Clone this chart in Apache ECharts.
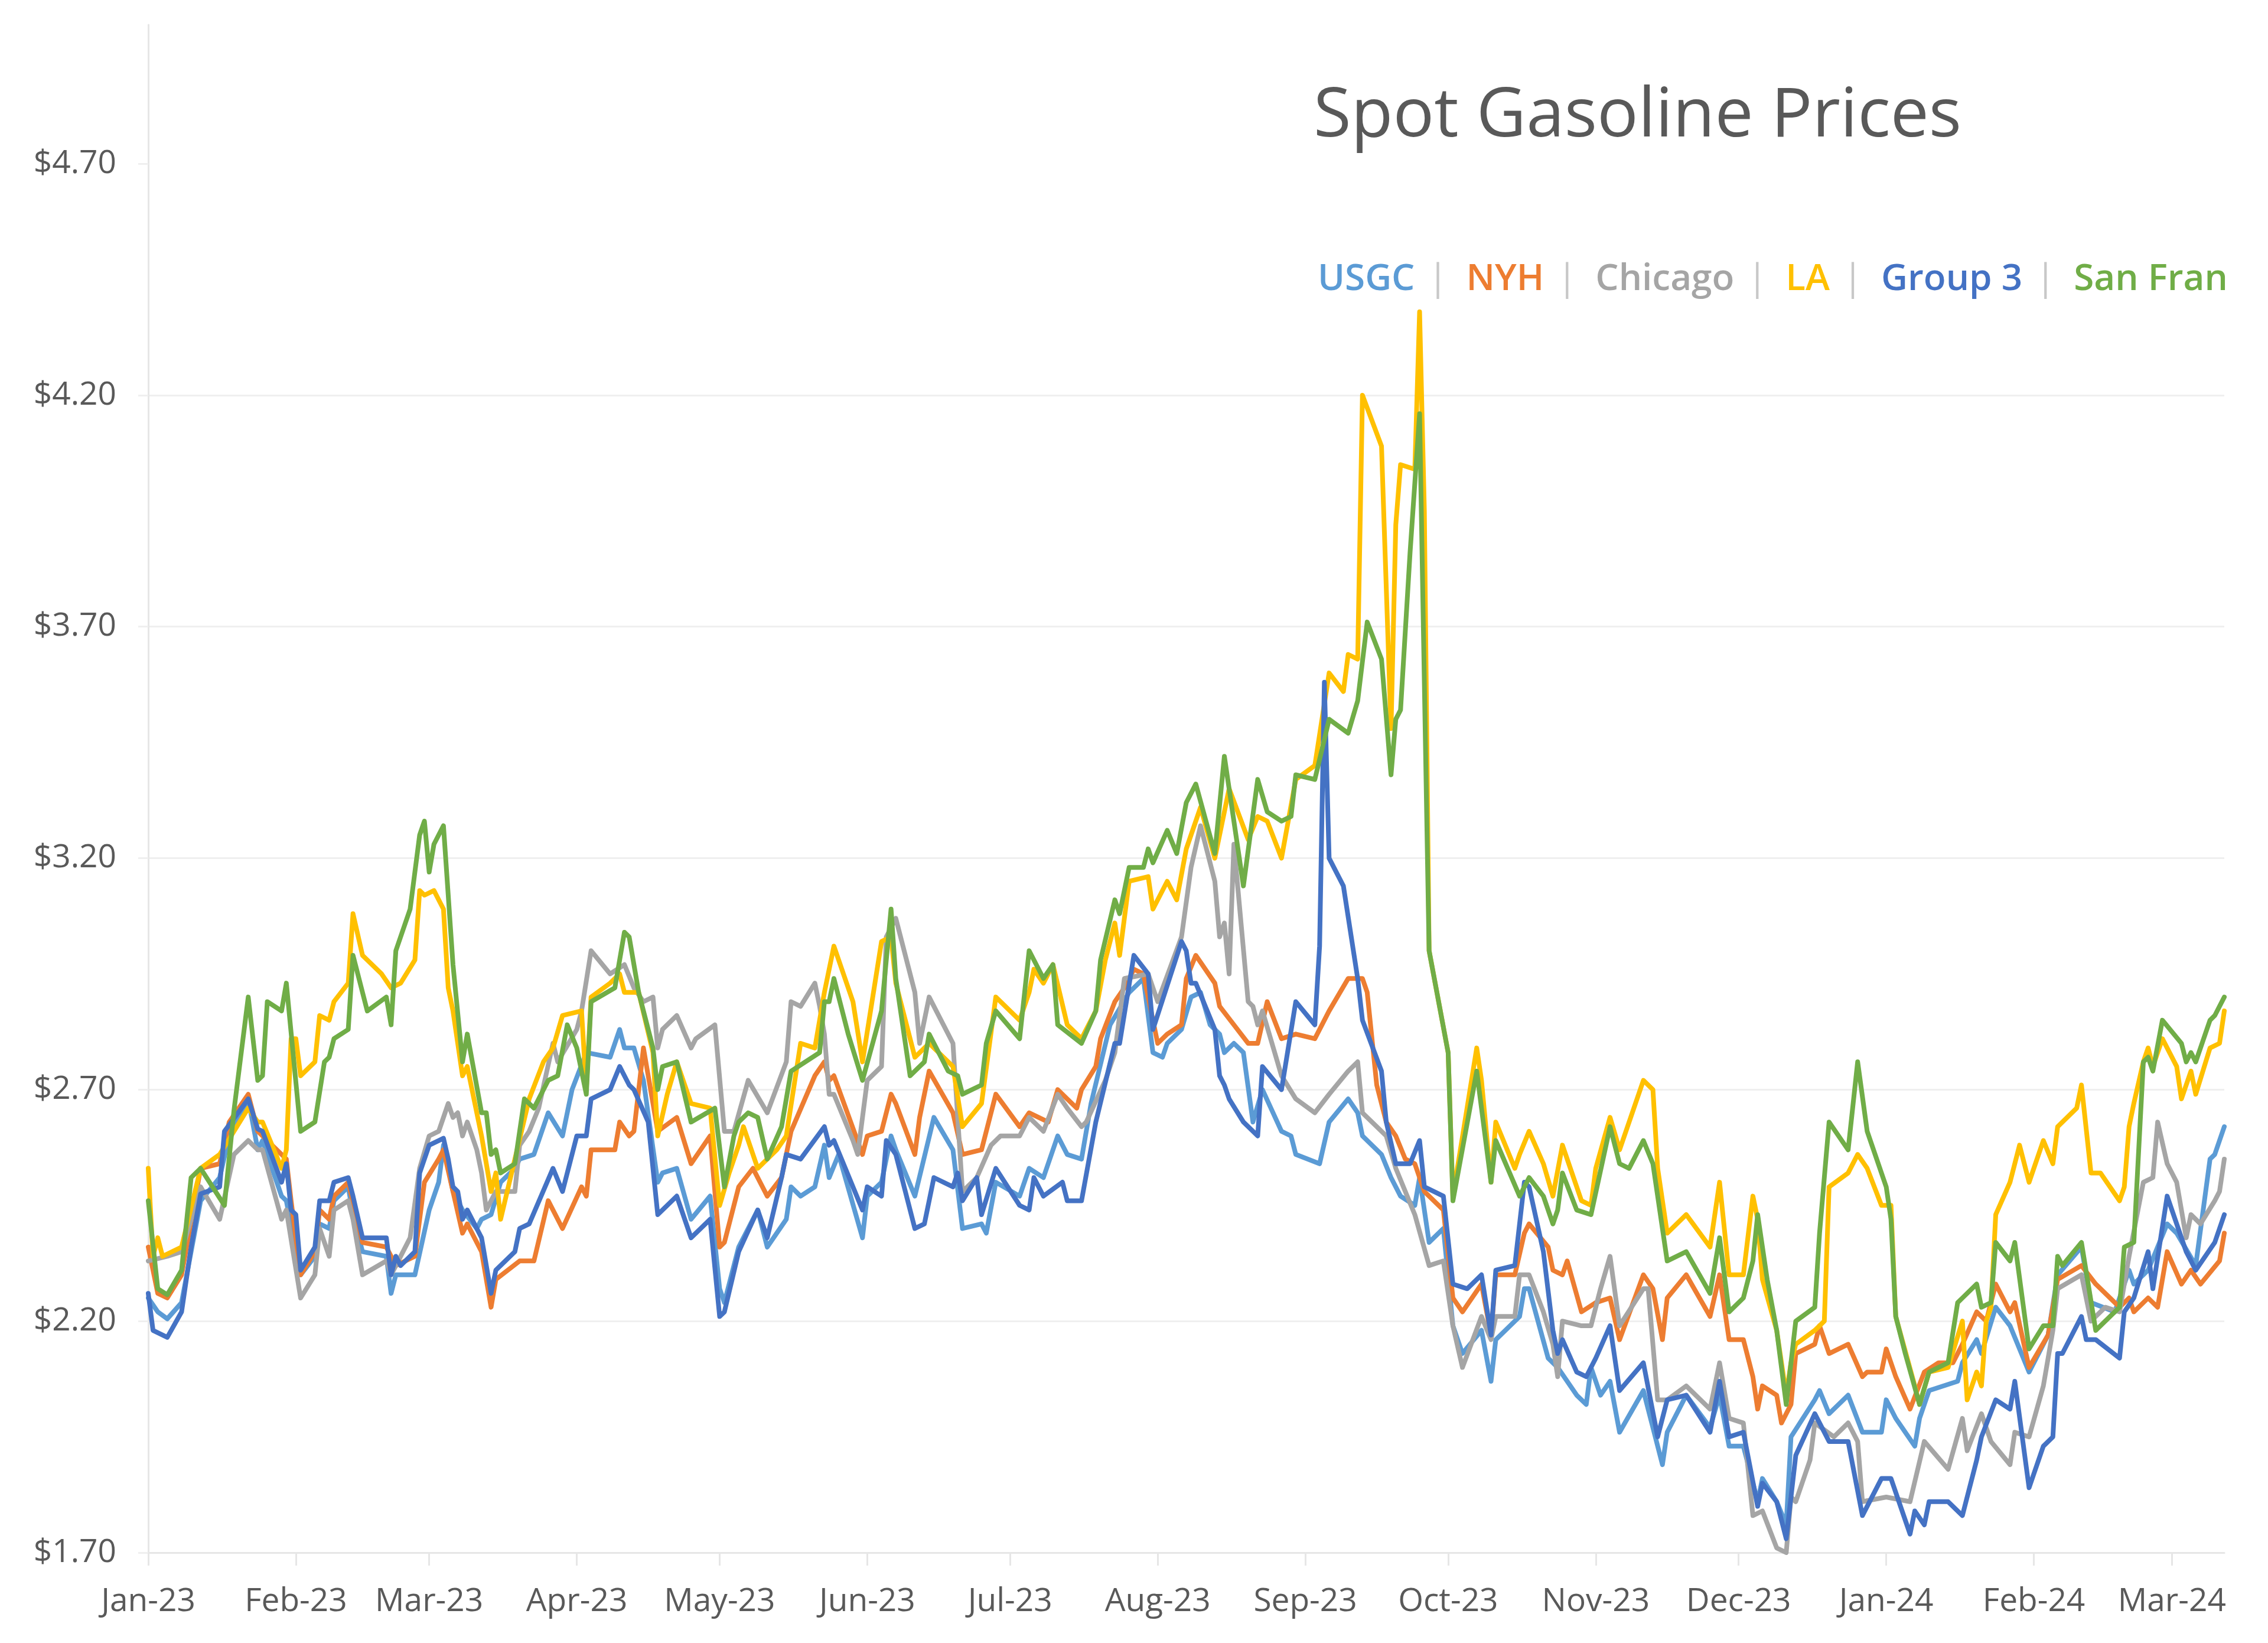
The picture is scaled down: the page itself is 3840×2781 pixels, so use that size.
<!DOCTYPE html>
<html>
<head>
<meta charset="utf-8">
<title>Spot Gasoline Prices</title>
<script src="https://cdn.jsdelivr.net/npm/echarts@6/dist/echarts.min.js"></script>
<style>
  html, body { margin: 0; padding: 0; background: #ffffff; }
  #chart { width: 3840px; height: 2781px; }
</style>
</head>
<body>
<div id="chart"></div>
<script>
// ---------------- data ----------------
// Each point: [day, price] where day = days after 1 Jan 2023 (trading days)
const titleText = 'Spot Gasoline Prices';
const seriesNames = ['USGC', 'NYH', 'Chicago', 'LA', 'Group 3', 'San Fran'];
const monthLabels = ['Jan-23','Feb-23','Mar-23','Apr-23','May-23','Jun-23','Jul-23','Aug-23','Sep-23','Oct-23','Nov-23','Dec-23','Jan-24','Feb-24','Mar-24'];
const monthStarts = ['2023-01-01','2023-02-01','2023-03-01','2023-04-01','2023-05-01','2023-06-01','2023-07-01','2023-08-01','2023-09-01','2023-10-01','2023-11-01','2023-12-01','2024-01-01','2024-02-01','2024-03-01'];
const axisEnd = '2024-03-12';
const yTicks = [1.7, 2.2, 2.7, 3.2, 3.7, 4.2, 4.7];

const usgc = [[0,2.25],[2,2.22],[4,2.205],[7,2.24],[11,2.46],[15,2.51],[17,2.60],[21,2.68],[23,2.57],[24,2.59],[28,2.47],[29,2.46],[32,2.30],[35,2.34],[36,2.41],[38,2.40],[39,2.46],[42,2.49],[43,2.43],[45,2.35],[50,2.34],[51,2.26],[52,2.30],[56,2.30],[59,2.44],[61,2.50],[62,2.58],[64,2.48],[66,2.44],[69,2.40],[70,2.42],[72,2.43],[74,2.50],[77,2.53],[78,2.55],[81,2.56],[84,2.65],[87,2.60],[89,2.70],[92,2.78],[97,2.77],[99,2.83],[100,2.79],[102,2.79],[104,2.72],[107,2.50],[108,2.52],[111,2.53],[114,2.42],[118,2.47],[120,2.27],[121,2.24],[124,2.36],[128,2.44],[130,2.36],[134,2.42],[135,2.49],[137,2.47],[140,2.49],[142,2.58],[143,2.51],[145,2.56],[150,2.38],[151,2.47],[154,2.50],[156,2.60],[157,2.57],[161,2.47],[165,2.64],[169,2.57],[171,2.40],[175,2.41],[176,2.39],[178,2.50],[183,2.47],[185,2.53],[188,2.51],[191,2.60],[193,2.56],[196,2.55],[198,2.67],[202,2.84],[206,2.91],[209,2.94],[211,2.78],[213,2.77],[214,2.80],[217,2.83],[219,2.90],[221,2.91],[223,2.84],[225,2.82],[226,2.78],[228,2.80],[230,2.78],[232,2.63],[234,2.70],[238,2.61],[240,2.60],[241,2.56],[246,2.54],[248,2.63],[252,2.68],[254,2.65],[255,2.60],[259,2.56],[261,2.51],[263,2.47],[266,2.45],[267,2.51],[269,2.37],[272,2.40],[274,2.19],[276,2.13],[280,2.18],[282,2.07],[283,2.16],[288,2.21],[289,2.27],[290,2.27],[294,2.12],[296,2.10],[300,2.04],[302,2.02],[303,2.10],[305,2.04],[307,2.07],[309,1.96],[314,2.05],[318,1.89],[319,1.96],[323,2.04],[328,1.97],[330,2.04],[332,1.93],[335,1.93],[338,1.81],[339,1.86],[342,1.81],[344,1.76],[345,1.95],[350,2.03],[351,2.05],[353,2.00],[357,2.04],[360,1.96],[364,1.96],[365,2.03],[367,1.99],[371,1.93],[372,1.99],[374,2.05],[380,2.07],[381,2.11],[384,2.16],[385,2.13],[388,2.23],[391,2.19],[395,2.09],[399,2.17],[401,2.30],[406,2.36],[408,2.24],[413,2.22],[416,2.31],[417,2.28],[420,2.31],[424,2.41],[426,2.39],[430,2.32],[433,2.55],[434,2.56],[436,2.62]];

const nyh = [[0,2.36],[2,2.26],[4,2.25],[7,2.30],[11,2.53],[15,2.54],[17,2.63],[21,2.69],[23,2.61],[29,2.55],[30,2.46],[32,2.30],[35,2.35],[36,2.44],[38,2.42],[39,2.47],[42,2.50],[45,2.37],[50,2.36],[52,2.32],[56,2.34],[58,2.50],[61,2.55],[62,2.57],[64,2.48],[66,2.39],[67,2.41],[70,2.35],[72,2.23],[73,2.29],[78,2.33],[81,2.33],[84,2.46],[87,2.40],[91,2.49],[92,2.47],[93,2.57],[98,2.57],[99,2.63],[101,2.60],[102,2.61],[104,2.79],[107,2.61],[111,2.64],[114,2.54],[118,2.60],[120,2.36],[121,2.37],[124,2.49],[127,2.53],[130,2.47],[133,2.51],[135,2.61],[140,2.73],[142,2.76],[143,2.72],[144,2.73],[150,2.56],[151,2.60],[154,2.61],[156,2.69],[157,2.67],[161,2.56],[162,2.64],[164,2.74],[169,2.65],[171,2.56],[175,2.57],[178,2.69],[183,2.62],[185,2.65],[189,2.63],[191,2.70],[193,2.68],[195,2.66],[196,2.70],[199,2.75],[200,2.81],[203,2.89],[205,2.92],[207,2.96],[209,2.95],[212,2.80],[214,2.82],[217,2.84],[218,2.94],[220,2.99],[224,2.93],[225,2.88],[228,2.84],[231,2.80],[233,2.80],[235,2.89],[238,2.81],[241,2.82],[245,2.81],[248,2.87],[252,2.94],[255,2.94],[256,2.91],[258,2.71],[260,2.63],[262,2.60],[264,2.55],[266,2.54],[268,2.48],[272,2.44],[274,2.25],[276,2.22],[280,2.28],[282,2.17],[283,2.30],[287,2.30],[289,2.39],[290,2.41],[294,2.36],[295,2.31],[297,2.30],[298,2.33],[301,2.22],[304,2.24],[307,2.25],[309,2.16],[314,2.30],[316,2.27],[318,2.16],[319,2.25],[323,2.30],[328,2.21],[330,2.30],[332,2.16],[335,2.16],[337,2.08],[338,2.01],[339,2.06],[342,2.04],[343,1.98],[345,2.02],[346,2.13],[350,2.15],[351,2.19],[353,2.13],[357,2.15],[360,2.08],[361,2.09],[364,2.09],[365,2.14],[367,2.08],[370,2.01],[373,2.09],[376,2.11],[379,2.11],[381,2.15],[384,2.22],[386,2.20],[388,2.28],[391,2.22],[392,2.24],[395,2.10],[399,2.17],[401,2.29],[406,2.32],[409,2.28],[414,2.23],[416,2.25],[417,2.22],[420,2.25],[422,2.23],[424,2.35],[427,2.28],[429,2.31],[431,2.28],[435,2.33],[436,2.39]];

const chicago = [[0,2.33],[4,2.34],[7,2.35],[11,2.49],[15,2.42],[18,2.56],[21,2.59],[23,2.57],[24,2.57],[28,2.42],[29,2.44],[32,2.25],[35,2.30],[36,2.40],[38,2.34],[39,2.44],[42,2.46],[43,2.42],[45,2.30],[50,2.33],[51,2.30],[55,2.38],[57,2.53],[59,2.60],[61,2.61],[63,2.67],[64,2.64],[65,2.65],[66,2.60],[67,2.63],[69,2.57],[70,2.52],[71,2.44],[73,2.48],[77,2.48],[78,2.58],[80,2.61],[82,2.66],[85,2.80],[86,2.76],[90,2.83],[91,2.87],[93,3.00],[97,2.95],[100,2.97],[102,2.92],[104,2.89],[106,2.90],[107,2.79],[108,2.83],[111,2.86],[114,2.79],[115,2.81],[119,2.84],[121,2.61],[123,2.61],[126,2.72],[130,2.65],[134,2.76],[135,2.89],[137,2.88],[140,2.93],[141,2.88],[142,2.82],[143,2.69],[144,2.69],[148,2.59],[149,2.56],[151,2.72],[154,2.75],[155,3.03],[157,3.07],[161,2.91],[162,2.80],[164,2.90],[169,2.80],[171,2.48],[174,2.51],[177,2.58],[179,2.60],[183,2.60],[185,2.64],[188,2.61],[191,2.69],[193,2.66],[196,2.62],[197,2.63],[201,2.72],[203,2.78],[205,2.94],[210,2.95],[212,2.89],[217,3.03],[219,3.18],[221,3.27],[224,3.15],[225,3.03],[226,3.06],[227,2.95],[228,3.23],[231,2.89],[232,2.88],[233,2.84],[234,2.87],[238,2.73],[241,2.68],[245,2.65],[248,2.69],[252,2.74],[254,2.76],[255,2.65],[260,2.60],[262,2.53],[266,2.43],[269,2.32],[272,2.33],[274,2.19],[276,2.10],[280,2.21],[282,2.16],[283,2.21],[287,2.21],[288,2.30],[290,2.30],[293,2.22],[295,2.15],[296,2.08],[297,2.20],[301,2.19],[303,2.19],[305,2.27],[307,2.34],[309,2.19],[314,2.27],[315,2.27],[317,2.03],[319,2.03],[323,2.06],[328,2.01],[330,2.11],[332,1.99],[335,1.98],[337,1.78],[339,1.79],[342,1.71],[344,1.70],[345,1.82],[346,1.81],[349,1.90],[350,1.98],[354,1.95],[357,1.98],[359,1.94],[360,1.81],[365,1.82],[370,1.81],[373,1.94],[378,1.88],[381,1.99],[382,1.92],[385,2.00],[387,1.94],[391,1.89],[392,1.96],[395,1.95],[398,2.06],[400,2.18],[401,2.27],[406,2.30],[408,2.20],[411,2.23],[414,2.22],[416,2.34],[419,2.50],[421,2.51],[422,2.63],[424,2.54],[426,2.50],[428,2.38],[429,2.43],[431,2.41],[434,2.46],[435,2.48],[436,2.55]];

const la = [[0,2.53],[1,2.34],[2,2.38],[3,2.34],[7,2.36],[11,2.53],[15,2.56],[21,2.66],[23,2.63],[24,2.63],[28,2.53],[29,2.57],[30,2.81],[31,2.81],[32,2.73],[35,2.76],[36,2.86],[38,2.85],[39,2.89],[42,2.93],[43,3.08],[45,2.99],[49,2.95],[51,2.92],[53,2.93],[56,2.98],[57,3.13],[58,3.12],[60,3.13],[62,3.09],[63,2.92],[64,2.87],[66,2.73],[67,2.75],[70,2.60],[72,2.48],[73,2.52],[74,2.42],[77,2.55],[80,2.68],[83,2.76],[85,2.79],[87,2.86],[91,2.87],[92,2.70],[93,2.90],[97,2.93],[99,2.95],[100,2.91],[103,2.91],[106,2.78],[107,2.60],[109,2.69],[111,2.76],[114,2.67],[118,2.66],[120,2.45],[122,2.52],[124,2.58],[125,2.62],[128,2.53],[132,2.57],[134,2.60],[137,2.80],[140,2.79],[142,2.91],[144,3.01],[148,2.89],[150,2.76],[154,3.02],[156,3.03],[157,2.93],[161,2.77],[164,2.80],[169,2.75],[171,2.62],[175,2.67],[178,2.90],[183,2.85],[185,2.91],[186,2.96],[188,2.93],[190,2.97],[193,2.84],[196,2.81],[199,2.87],[201,2.98],[203,3.06],[204,2.99],[206,3.15],[210,3.16],[211,3.09],[214,3.15],[216,3.11],[218,3.22],[221,3.31],[224,3.20],[227,3.35],[231,3.24],[233,3.29],[235,3.28],[238,3.20],[241,3.37],[245,3.40],[248,3.60],[251,3.56],[252,3.64],[254,3.63],[255,4.20],[259,4.09],[261,3.48],[262,3.92],[263,4.05],[266,4.04],[267,4.38],[268,3.95],[269,3.00],[273,2.78],[274,2.47],[279,2.79],[280,2.72],[282,2.50],[283,2.63],[287,2.53],[288,2.56],[290,2.61],[293,2.54],[295,2.47],[297,2.58],[301,2.46],[303,2.45],[304,2.53],[307,2.64],[309,2.57],[314,2.72],[316,2.70],[317,2.53],[319,2.39],[323,2.43],[328,2.36],[330,2.50],[332,2.30],[335,2.30],[337,2.47],[338,2.42],[339,2.29],[342,2.18],[344,2.04],[345,2.11],[346,2.15],[350,2.18],[352,2.20],[353,2.49],[357,2.52],[359,2.56],[361,2.53],[364,2.45],[366,2.45],[367,2.21],[371,2.06],[372,2.02],[374,2.09],[378,2.10],[381,2.20],[382,2.03],[384,2.09],[385,2.06],[386,2.20],[387,2.23],[388,2.43],[391,2.50],[393,2.58],[395,2.50],[398,2.59],[400,2.54],[401,2.62],[405,2.66],[406,2.71],[408,2.52],[410,2.52],[414,2.46],[415,2.49],[416,2.62],[417,2.67],[419,2.76],[420,2.79],[421,2.75],[423,2.81],[426,2.75],[427,2.68],[429,2.74],[430,2.69],[433,2.79],[435,2.80],[436,2.87]];

const group3 = [[0,2.26],[1,2.18],[4,2.165],[7,2.22],[9,2.36],[11,2.475],[15,2.49],[16,2.61],[21,2.68],[23,2.615],[24,2.61],[28,2.50],[29,2.54],[30,2.44],[31,2.43],[32,2.31],[35,2.36],[36,2.46],[38,2.46],[39,2.50],[42,2.51],[43,2.47],[45,2.38],[50,2.38],[51,2.30],[52,2.34],[53,2.32],[56,2.35],[57,2.52],[59,2.58],[61,2.59],[62,2.595],[63,2.55],[64,2.49],[65,2.48],[66,2.42],[67,2.44],[70,2.38],[72,2.26],[73,2.31],[77,2.35],[78,2.40],[80,2.41],[85,2.53],[87,2.48],[90,2.60],[92,2.60],[93,2.68],[97,2.70],[99,2.75],[101,2.71],[102,2.70],[105,2.63],[107,2.43],[111,2.47],[114,2.38],[118,2.42],[120,2.21],[121,2.22],[124,2.35],[128,2.44],[130,2.38],[133,2.51],[134,2.56],[137,2.55],[142,2.62],[143,2.58],[144,2.59],[150,2.44],[151,2.49],[154,2.47],[155,2.59],[157,2.56],[161,2.40],[163,2.41],[165,2.51],[169,2.49],[170,2.52],[171,2.46],[174,2.51],[175,2.43],[178,2.53],[183,2.45],[185,2.44],[186,2.51],[188,2.47],[192,2.50],[193,2.46],[196,2.46],[199,2.63],[203,2.80],[204,2.80],[207,2.99],[210,2.95],[211,2.83],[217,3.02],[218,3.00],[219,2.93],[220,2.93],[224,2.83],[225,2.73],[226,2.71],[227,2.68],[230,2.63],[233,2.60],[234,2.75],[238,2.70],[241,2.89],[245,2.84],[246,3.01],[247,3.58],[248,3.20],[251,3.14],[254,2.94],[255,2.85],[259,2.74],[260,2.63],[262,2.54],[265,2.54],[267,2.59],[268,2.49],[272,2.47],[274,2.28],[277,2.27],[280,2.30],[282,2.17],[283,2.31],[287,2.32],[289,2.50],[290,2.49],[293,2.35],[295,2.18],[296,2.13],[297,2.16],[300,2.09],[302,2.08],[304,2.12],[307,2.19],[309,2.05],[314,2.11],[317,1.95],[319,2.03],[323,2.04],[328,1.96],[330,2.07],[332,1.95],[335,1.96],[338,1.80],[339,1.85],[342,1.81],[344,1.73],[346,1.91],[350,2.00],[353,1.94],[357,1.94],[360,1.78],[364,1.86],[366,1.86],[370,1.74],[371,1.79],[373,1.76],[374,1.81],[378,1.81],[381,1.78],[384,1.90],[385,1.95],[388,2.03],[391,2.01],[392,2.07],[395,1.84],[398,1.93],[400,1.95],[401,2.13],[402,2.13],[406,2.21],[407,2.16],[409,2.16],[414,2.12],[415,2.22],[417,2.25],[420,2.35],[421,2.27],[424,2.47],[426,2.41],[428,2.35],[430,2.31],[434,2.37],[436,2.43]];

const sanFran = [[0,2.46],[2,2.27],[4,2.257],[7,2.31],[9,2.51],[11,2.53],[16,2.45],[18,2.655],[21,2.90],[23,2.72],[24,2.73],[25,2.89],[28,2.87],[29,2.93],[32,2.61],[35,2.63],[37,2.76],[38,2.77],[39,2.81],[42,2.83],[43,2.99],[46,2.87],[50,2.90],[51,2.84],[52,3.00],[55,3.09],[57,3.25],[58,3.28],[59,3.17],[60,3.23],[62,3.27],[64,2.97],[66,2.76],[67,2.82],[70,2.65],[71,2.65],[72,2.56],[73,2.57],[74,2.52],[77,2.54],[79,2.68],[81,2.66],[84,2.72],[86,2.73],[88,2.84],[90,2.79],[92,2.69],[93,2.89],[98,2.92],[100,3.04],[101,3.03],[103,2.91],[106,2.79],[107,2.70],[108,2.75],[111,2.76],[114,2.63],[119,2.66],[121,2.49],[123,2.60],[124,2.63],[126,2.65],[128,2.64],[130,2.55],[133,2.62],[135,2.74],[141,2.78],[142,2.89],[143,2.89],[144,2.94],[147,2.82],[150,2.72],[154,2.87],[156,3.09],[157,2.94],[160,2.73],[163,2.76],[164,2.82],[168,2.74],[170,2.73],[171,2.69],[175,2.71],[176,2.80],[178,2.87],[183,2.81],[185,3.00],[188,2.94],[190,2.97],[191,2.84],[196,2.80],[199,2.87],[200,2.98],[203,3.11],[204,3.08],[206,3.18],[209,3.18],[210,3.22],[211,3.19],[214,3.26],[216,3.21],[218,3.32],[220,3.36],[224,3.21],[226,3.42],[230,3.14],[233,3.37],[235,3.30],[238,3.28],[240,3.29],[241,3.38],[245,3.37],[248,3.50],[252,3.47],[254,3.54],[256,3.71],[259,3.63],[261,3.38],[262,3.50],[263,3.52],[265,3.86],[267,4.16],[269,3.00],[273,2.78],[274,2.46],[279,2.74],[282,2.50],[283,2.59],[288,2.47],[290,2.51],[293,2.47],[295,2.41],[296,2.44],[297,2.52],[300,2.44],[303,2.43],[307,2.62],[309,2.54],[311,2.53],[314,2.59],[316,2.54],[319,2.33],[323,2.35],[328,2.26],[330,2.38],[332,2.22],[335,2.25],[337,2.33],[338,2.43],[340,2.29],[342,2.18],[344,2.02],[346,2.20],[350,2.23],[351,2.39],[353,2.63],[357,2.57],[359,2.76],[361,2.61],[365,2.49],[366,2.42],[367,2.21],[369,2.13],[372,2.02],[374,2.09],[378,2.11],[380,2.24],[381,2.25],[384,2.28],[385,2.23],[387,2.24],[388,2.37],[391,2.33],[392,2.37],[395,2.14],[398,2.19],[400,2.19],[401,2.34],[402,2.32],[406,2.37],[409,2.18],[414,2.23],[415,2.36],[417,2.37],[419,2.76],[420,2.77],[421,2.74],[423,2.85],[427,2.80],[428,2.76],[429,2.78],[430,2.76],[433,2.85],[434,2.86],[436,2.90]];

// ---------------- chart ----------------
const seriesData = [usgc, nyh, chicago, la, group3, sanFran];
const colors = ['#5B9BD5', '#ED7D31', '#A5A5A5', '#FFC000', '#4472C4', '#70AD47'];
const FONT = '"Segoe UI", "Open Sans", "Noto Sans", sans-serif';
const GRID = '#EFEFEF';
const AXIS = '#E6E6E6';

const DAY0 = Date.UTC(2023, 0, 1);
const toDay = s => Math.round((Date.parse(s + 'T00:00:00Z') - DAY0) / 864e5);
const monthDays = monthStarts.map(toDay);
const labelByDay = {};
monthDays.forEach((d, i) => { labelByDay[d] = monthLabels[i]; });

const chart = echarts.init(document.getElementById('chart'), null, { renderer: 'canvas' });

const option = {
  backgroundColor: '#ffffff',
  animation: false,
  title: {
    text: titleText,
    left: 2219,
    top: 128,
    padding: 5,
    textStyle: { fontFamily: FONT, fontSize: 116, fontWeight: 'normal', color: '#595959', lineHeight: 130 }
  },
  legend: {
    left: 2221,
    top: 428,
    right: 0,
    orient: 'horizontal',
    icon: 'none',
    itemWidth: 0,
    itemHeight: 80,
    itemGap: 26,
    selectedMode: false,
    data: seriesNames.map((n, i) => ({ name: n, textStyle: { color: colors[i] } })),
    formatter: n => (n === seriesNames[seriesNames.length - 1] ? n : n + '{s||}'),
    textStyle: {
      fontFamily: FONT, fontSize: 62, fontWeight: 600, lineHeight: 80,
      rich: { s: { color: '#C8C8C8', fontWeight: 'normal', fontFamily: FONT, fontSize: 62, lineHeight: 80, padding: [0, 0, 0, 22] } }
    }
  },
  grid: { left: 251, right: 74, top: 42, bottom: 153, containLabel: false },
  xAxis: {
    type: 'value',
    min: 0,
    max: toDay(axisEnd),
    axisLine: { show: true, lineStyle: { color: AXIS, width: 3 } },
    axisTick: { show: true, customValues: monthDays, length: 22, lineStyle: { color: AXIS, width: 3 } },
    axisLabel: {
      customValues: monthDays,
      formatter: v => labelByDay[Math.round(v)] || '',
      fontFamily: FONT, fontSize: 55, color: '#595959', margin: 56
    },
    splitLine: { show: false }
  },
  yAxis: {
    type: 'value',
    min: 1.7,
    max: 5.0,
    interval: 0.5,
    axisLine: { show: true, lineStyle: { color: AXIS, width: 3 } },
    axisTick: { show: true, customValues: yTicks, length: 17, lineStyle: { color: GRID, width: 3 } },
    axisLabel: {
      customValues: yTicks,
      formatter: v => '$' + Number(v).toFixed(2),
      fontFamily: FONT, fontSize: 55, color: '#595959', margin: 54
    },
    splitLine: { show: true, showMaxLine: false, lineStyle: { color: GRID, width: 3 } }
  },
  series: seriesNames.map((n, i) => ({
    name: n,
    type: 'line',
    data: seriesData[i],
    showSymbol: false,
    symbol: 'none',
    color: colors[i],
    lineStyle: { color: colors[i], width: 8, join: 'round', cap: 'round' },
    emphasis: { disabled: true },
    clip: true,
    z: 2 + i
  }))
};

chart.setOption(option);
</script>
</body>
</html>
